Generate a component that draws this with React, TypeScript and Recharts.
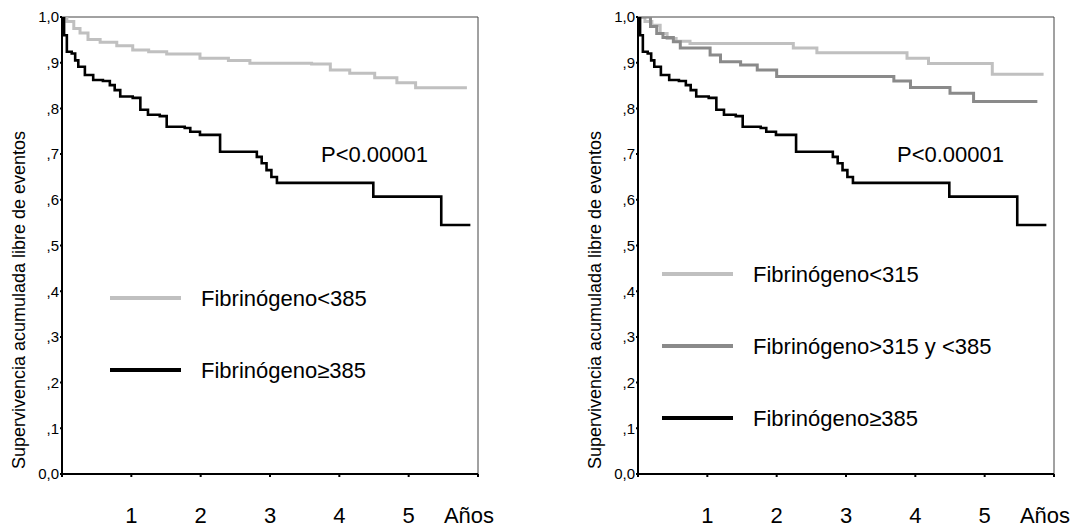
import React from 'react';
import { LineChart, Line, XAxis, YAxis, ReferenceLine, Legend } from 'recharts';

const FONT = '"Liberation Sans", Arial, Helvetica, sans-serif';

// Axis ticks and labels
const xTicks = [0, 1, 2, 3, 4, 5, 6];
const xTickLabels = ['', '1', '2', '3', '4', '5', 'Años'];
const yTicks = [0, 0.1, 0.2, 0.3, 0.4, 0.5, 0.6, 0.7, 0.8, 0.9, 1.0];
const yTickLabels = ['0,0', ',1', ',2', ',3', ',4', ',5', ',6', ',7', ',8', ',9', '1,0'];
const yTitle = 'Supervivencia acumulada libre de eventos';
const pValueText = 'P<0.00001';

// Left panel: Fibrinógeno<385
const tLow385 = [0, 0.07, 0.17, 0.26, 0.375, 0.55, 0.79, 1.02, 1.25, 1.51, 1.99, 2.4, 2.71, 3.6, 3.87, 4.15, 4.51, 4.83, 5.1, 5.84];
const sLow385 = [1.0, 0.99, 0.975, 0.965, 0.951, 0.945, 0.937, 0.928, 0.924, 0.919, 0.91, 0.905, 0.899, 0.897, 0.884, 0.877, 0.867, 0.856, 0.845, 0.845];

// Both panels: Fibrinógeno≥385
const tHigh385 = [0, 0.03, 0.07, 0.14, 0.19, 0.235, 0.33, 0.45, 0.59, 0.69, 0.76, 0.84, 1.02, 1.13, 1.24, 1.41, 1.51, 1.77, 1.85, 1.99, 2.28, 2.81, 2.88, 2.95, 3.02, 3.1, 4.42, 4.49, 5.47, 5.89];
const sHigh385 = [1.0, 0.96, 0.924, 0.92, 0.905, 0.891, 0.873, 0.862, 0.86, 0.851, 0.84, 0.826, 0.823, 0.797, 0.786, 0.783, 0.76, 0.757, 0.749, 0.742, 0.705, 0.694, 0.68, 0.665, 0.65, 0.637, 0.637, 0.607, 0.545, 0.545];

// Right panel: Fibrinógeno<315
const tLow315 = [0, 0.1, 0.2, 0.32, 0.42, 0.55, 0.75, 2.24, 2.58, 3.88, 4.19, 5.11, 5.85];
const sLow315 = [1.0, 0.99, 0.982, 0.964, 0.953, 0.947, 0.942, 0.932, 0.922, 0.91, 0.898, 0.875, 0.875];

// Right panel: Fibrinógeno>315 y <385
const tMid = [0, 0.18, 0.27, 0.36, 0.51, 0.61, 1.04, 1.19, 1.48, 1.72, 2.0, 3.69, 3.93, 4.5, 4.84, 5.76];
const sMid = [1.0, 0.979, 0.964, 0.955, 0.946, 0.932, 0.917, 0.902, 0.895, 0.884, 0.87, 0.86, 0.846, 0.833, 0.815, 0.815];

const toPoints = (t: number[], s: number[]) => t.map((x, i) => ({ t: x, s: s[i] }));

type Series = { name: string; color: string; width: number; data: { t: number; s: number }[] };

const leftSeries: Series[] = [
  { name: 'Fibrinógeno<385', color: '#c0c0c0', width: 3, data: toPoints(tLow385, sLow385) },
  { name: 'Fibrinógeno≥385', color: '#000000', width: 2.6, data: toPoints(tHigh385, sHigh385) },
];

const rightSeries: Series[] = [
  { name: 'Fibrinógeno<315', color: '#c0c0c0', width: 3, data: toPoints(tLow315, sLow315) },
  { name: 'Fibrinógeno>315 y <385', color: '#8a8a8a', width: 3, data: toPoints(tMid, sMid) },
  { name: 'Fibrinógeno≥385', color: '#000000', width: 2.6, data: toPoints(tHigh385, sHigh385) },
];

const XTick = (props: any) => {
  const { x, y, payload } = props;
  const i = xTicks.indexOf(payload.value);
  const label = xTickLabels[i];
  if (!label) return <g />;
  const dx = payload.value === 6 ? -9 : 0;
  return (
    <text x={x + dx} y={y + 46} textAnchor="middle" fontSize={22} fontFamily={FONT} fill="#000">
      {label}
    </text>
  );
};

const LegendBox = (props: any) => {
  const payload = props.payload || [];
  const rowH = 72;
  return (
    <svg width={420} height={payload.length * rowH} style={{ overflow: 'visible' }}>
      {payload.map((p: any, i: number) => (
        <g key={i}>
          <line x1={0} x2={71} y1={20 + i * rowH} y2={20 + i * rowH} stroke={p.color} strokeWidth={4} />
          <text x={91} y={20 + i * rowH + 8} fontSize={22} fontFamily={FONT} fill="#000">
            {p.value}
          </text>
        </g>
      ))}
    </svg>
  );
};

function Panel({ series, left, width, legendLeft, legendTop }: { series: Series[]; left: number; width: number; legendLeft: number; legendTop: number }) {
  return (
    <div style={{ position: 'absolute', left, top: 0 }}>
      <LineChart width={width} height={531} margin={{ top: 17, right: width - 478, bottom: 7, left: 2 }}>
        <XAxis
          dataKey="t"
          type="number"
          domain={[0, 6]}
          ticks={xTicks}
          allowDataOverflow
          axisLine={{ stroke: '#000', strokeWidth: 2 }}
          tickLine={{ stroke: '#000', strokeWidth: 2 }}
          tickSize={3}
          tickMargin={0}
          height={50}
          tick={<XTick />}
        />
        <YAxis
          type="number"
          domain={[0, 1]}
          ticks={yTicks}
          allowDataOverflow
          width={60}
          axisLine={{ stroke: '#000', strokeWidth: 2 }}
          tickLine={{ stroke: '#000', strokeWidth: 2 }}
          tickSize={2}
          tickMargin={1}
          tickFormatter={(v: number) => yTickLabels[Math.round(v * 10)]}
          tick={{ fill: '#000', fontSize: 15, fontFamily: FONT }}
        />
        <ReferenceLine y={1} stroke="#444" strokeWidth={1} />
        <ReferenceLine x={6} stroke="#444" strokeWidth={1} />
        {series.map((s) => (
          <Line
            key={s.name}
            data={s.data}
            dataKey="s"
            name={s.name}
            type="stepAfter"
            stroke={s.color}
            strokeWidth={s.width}
            dot={false}
            activeDot={false}
            isAnimationActive={false}
          />
        ))}
        <Legend
          layout="vertical"
          align="center"
          verticalAlign="middle"
          content={<LegendBox />}
          wrapperStyle={{ left: legendLeft, top: legendTop, width: 420, height: 'auto' }}
        />
        <text x={321} y={162} fontSize={22} fontFamily={FONT} fill="#000">
          {pValueText}
        </text>
        <text x={25} y={300} transform="rotate(-90 25 300)" textAnchor="middle" fontSize={18} fontFamily={FONT} fill="#000">
          {yTitle}
        </text>
      </LineChart>
    </div>
  );
}

export default function App() {
  return (
    <div style={{ position: 'absolute', left: 0, top: 0, width: 1079, height: 531, background: '#fff', overflow: 'hidden' }}>
      <Panel series={leftSeries} left={0} width={576} legendLeft={110} legendTop={278} />
      <Panel series={rightSeries} left={576} width={503} legendLeft={86} legendTop={254} />
    </div>
  );
}
